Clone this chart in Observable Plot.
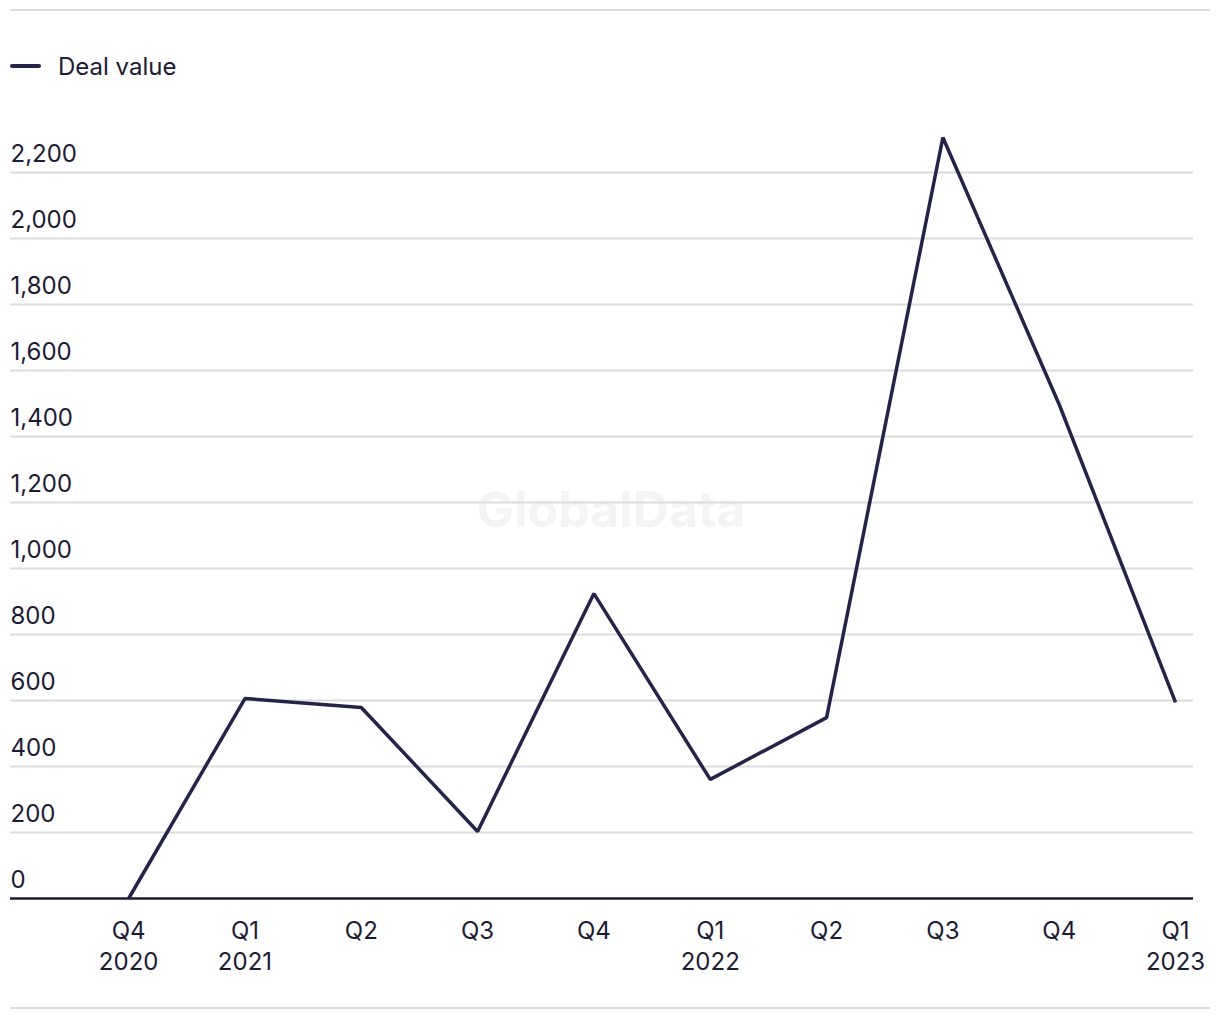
<!DOCTYPE html>
<html>
<head>
<meta charset="utf-8">
<script src="https://cdn.jsdelivr.net/npm/d3@7"></script>
<script src="https://cdn.jsdelivr.net/npm/@observablehq/plot@0.6"></script>
<style>
  html, body { margin: 0; padding: 0; background: #fff; }
  body { width: 1220px; height: 1020px; position: relative; font-family: Inter, "Noto Sans", sans-serif; color: #1c1b33; }
  .rule { position: absolute; left: 10px; width: 1200px; height: 2px; background: #dcdcdc; }
  #legend { position: absolute; left: 10px; top: 50px; height: 32px; display: flex; align-items: center; font-size: 24px; }
  #legend .sw { width: 31px; height: 4px; border-radius: 2px; background: #25234a; margin-right: 17px; }
  #chart { position: absolute; left: 0; top: 100px; }
</style>
</head>
<body>
<div class="rule" style="top:9px"></div>
<div id="legend"><span class="sw"></span><span>Deal value</span></div>
<div id="chart"></div>
<div class="rule" style="top:1007px"></div>
<script>
const quarters = ["Q4 2020","Q1 2021","Q2 2021","Q3 2021","Q4 2021","Q1 2022","Q2 2022","Q3 2022","Q4 2022","Q1 2023"];
const tickLabels = ["Q4\n2020","Q1\n2021","Q2","Q3","Q4","Q1\n2022","Q2","Q3","Q4","Q1\n2023"];
const dealValue = [0, 606, 579, 203, 924, 361, 548, 2306, 1497, 594];
const yTicks = [0, 200, 400, 600, 800, 1000, 1200, 1400, 1600, 1800, 2000, 2200];

const data = quarters.map((q, i) => ({quarter: q, value: dealValue[i]}));
const labelOf = new Map(quarters.map((q, i) => [q, tickLabels[i]]));

const chart = Plot.plot({
  width: 1220,
  height: 900,
  marginLeft: 10,
  marginRight: 27,
  marginTop: 6,
  marginBottom: 102,
  style: {fontFamily: "Inter, 'Noto Sans', sans-serif", fontSize: "24px", color: "#1c1b33", background: "transparent"},
  x: {type: "point", domain: quarters, padding: 0.585, align: 0.868, round: false},
  y: {domain: [0, 2400]},
  marks: [
    Plot.text(["GlobalData"], {frameAnchor: "middle", dx: 9, dy: 8, text: d => d, fontSize: 50, fontWeight: "bold", fill: "#f4f4f4"}),
    Plot.ruleY(yTicks.filter(d => d > 0), {stroke: "#dcdcdc", strokeWidth: 2}),
    Plot.ruleY([0], {stroke: "#1c1b33", strokeWidth: 2.5}),
    Plot.text(yTicks, {y: d => d, frameAnchor: "left", text: d => d3.format(",")(d), textAnchor: "start", dy: -18, fill: "#1c1b33", fontSize: 24}),
    Plot.axisX({tickSize: 0, tickPadding: 18, tickFormat: d => labelOf.get(d), lineHeight: 1.3, fontSize: 24, fill: "#1c1b33", label: null}),
    Plot.axisY({ticks: [], label: null}),
    Plot.line(data, {x: "quarter", y: "value", stroke: "#25234a", strokeWidth: 3.5, strokeLinejoin: "miter", strokeLinecap: "butt"})
  ]
});
document.getElementById("chart").appendChild(chart);
</script>
</body>
</html>
